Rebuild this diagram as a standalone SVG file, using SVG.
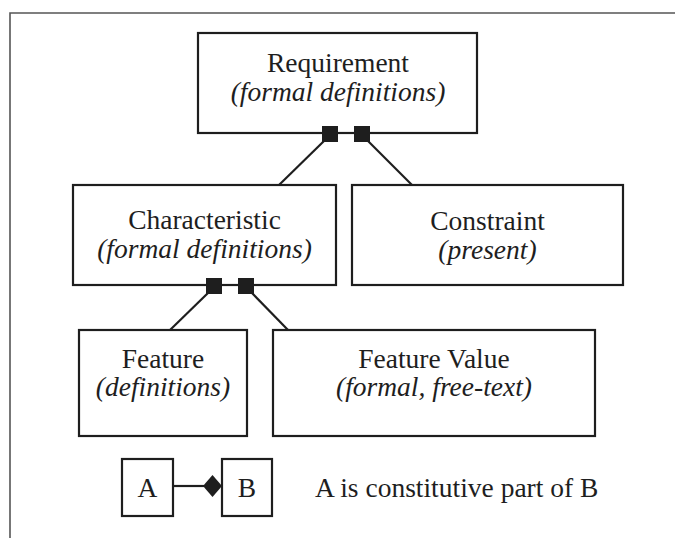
<svg xmlns="http://www.w3.org/2000/svg" width="675" height="538" viewBox="0 0 675 538">
<style>
.box{fill:#fff;stroke:#1e1e1e;stroke-width:2.2}
.t{font-family:"Liberation Serif","Times New Roman",serif;font-size:27.5px;fill:#1e1e1e;text-anchor:middle}
.i{font-style:italic}
.frame{fill:none;stroke:#555;stroke-width:1.6}
.conn{stroke:#1e1e1e;stroke-width:2.2;fill:none}
.sq{fill:#1e1e1e}
</style>
<rect width="675" height="538" fill="#fff"/>
<path class="frame" d="M10,538 V13 H675"/>
<g id="requirement">
<rect class="box" x="198" y="33" width="279" height="100"/>
<text class="t" x="338" y="72">Requirement</text>
<text class="t i" x="338" y="101">(formal definitions)</text>
</g>
<g id="characteristic">
<rect class="box" x="73" y="185" width="263" height="100"/>
<text class="t" x="204.5" y="229">Characteristic</text>
<text class="t i" x="204.5" y="258">(formal definitions)</text>
</g>
<g id="constraint">
<rect class="box" x="352" y="185" width="271" height="100"/>
<text class="t" x="487.5" y="230">Constraint</text>
<text class="t i" x="487.5" y="259">(present)</text>
</g>
<g id="feature">
<rect class="box" x="79" y="330" width="168" height="106"/>
<text class="t" x="163" y="368">Feature</text>
<text class="t i" x="163" y="396">(definitions)</text>
</g>
<g id="feature-value">
<rect class="box" x="273" y="330" width="322" height="106"/>
<text class="t" x="434" y="368">Feature Value</text>
<text class="t i" x="434" y="396">(formal, free-text)</text>
</g>
<g id="connectors">
<line class="conn" x1="324" y1="141" x2="279" y2="185"/>
<line class="conn" x1="368" y1="141" x2="412" y2="185"/>
<line class="conn" x1="208" y1="293" x2="170" y2="330"/>
<line class="conn" x1="252" y1="293" x2="288" y2="330"/>
<rect class="sq" x="322" y="126" width="16" height="16"/>
<rect class="sq" x="354" y="126" width="16" height="16"/>
<rect class="sq" x="206" y="278" width="16" height="16"/>
<rect class="sq" x="238" y="278" width="16" height="16"/>
</g>
<g id="legend">
<g id="legend-a">
<rect class="box" x="122" y="459" width="51" height="57"/>
<text class="t" x="147.5" y="497">A</text>
</g>
<g id="legend-b">
<rect class="box" x="222" y="459" width="50" height="57"/>
<text class="t" x="247" y="497">B</text>
</g>
<line class="conn" x1="173" y1="486" x2="204" y2="486"/>
<polygon class="sq" points="203,486 212.5,475 222,486 212.5,497"/>
<text class="t" x="315" y="497" style="text-anchor:start">A is constitutive part of B</text>
</g>
</svg>
